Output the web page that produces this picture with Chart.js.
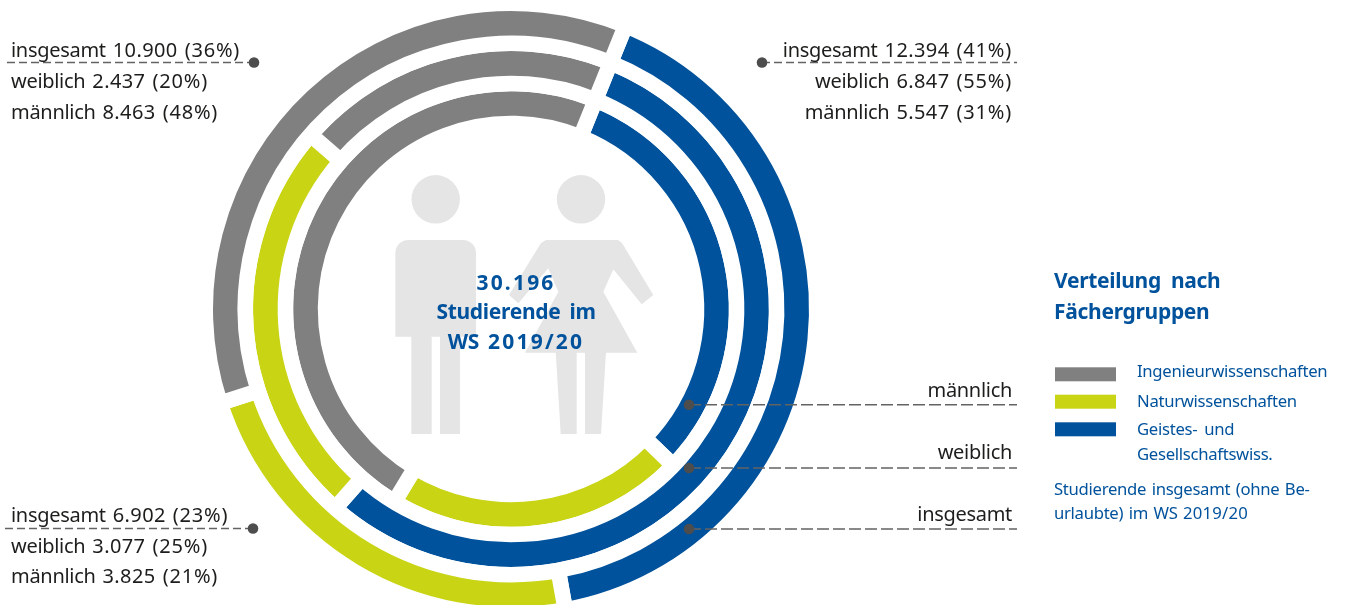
<!DOCTYPE html>
<html lang="de">
<head>
<meta charset="utf-8">
<title>Verteilung nach Fächergruppen</title>
<script src="https://cdn.jsdelivr.net/npm/chart.js@4"></script>
<style>
  html, body { margin: 0; padding: 0; background: #fff; overflow: hidden; }
  #wrap { position: relative; width: 1345px; height: 605px; overflow: hidden; }
  #jsChart { position: absolute; left: 0; top: 0; }
</style>
</head>
<body>
<div id="wrap"><canvas id="jsChart" width="1345" height="640"></canvas></div>
<script>
// Fächergruppen, reihenfolge im uhrzeigersinn
const categories = ['Geistes- und Gesellschaftswiss.', 'Naturwissenschaften', 'Ingenieurwissenschaften'];
const insgesamt = [12394, 6902, 10900];
const weiblich = [6847, 3077, 2437];
const maennlich = [5547, 3825, 8463];
const colors = ['#00529c', '#c8d414', '#808080'];

const topRightLabels = ['insgesamt 12.394 (41%)', 'weiblich 6.847 (55%)', 'männlich 5.547 (31%)'];
const topLeftLabels = ['insgesamt 10.900 (36%)', 'weiblich 2.437 (20%)', 'männlich 8.463 (48%)'];
const bottomLeftLabels = ['insgesamt 6.902 (23%)', 'weiblich 3.077 (25%)', 'männlich 3.825 (21%)'];
const ringLabels = ['männlich', 'weiblich', 'insgesamt'];
const centerLabels = ['30.196', 'Studierende im', 'WS 2019/20'];
const legendTitle = ['Verteilung nach', 'Fächergruppen'];
const legendNote = ['Studierende insgesamt (ohne Be-', 'urlaubte) im WS 2019/20'];

const FONT = '"Noto Sans"';
const DARK = '#1d1d1b';
const BLUE = '#00529c';

// Noto ist bei ziffern schmaler als die originalschrift, darum wortweise sperren
const spacingOf = (word, num) => {
  if (word.startsWith('(') && word.includes('%')) return num + 0.4;
  return /\d/.test(word) ? num : -0.3;
};

const text = (ctx, str, x, y, font, color, align = 'left', num = 0.4, gap = 7) => {
  ctx.font = font;
  ctx.fillStyle = color;
  ctx.textAlign = 'left';
  ctx.textBaseline = 'alphabetic';
  const words = str.split(' ');
  const widths = words.map((w) => {
    ctx.letterSpacing = `${spacingOf(w, num)}px`;
    return ctx.measureText(w).width;
  });
  const total = widths.reduce((a, b) => a + b, 0) + gap * (words.length - 1);
  let cx = x;
  if (align === 'right') cx = x - total;
  if (align === 'center') cx = x - total / 2;
  words.forEach((w, i) => {
    ctx.letterSpacing = `${spacingOf(w, num)}px`;
    ctx.fillText(w, cx, y);
    cx += widths[i] + gap;
  });
  ctx.letterSpacing = '0px';
};

const leader = (ctx, x1, x2, y, dotX, dash) => {
  ctx.save();
  ctx.strokeStyle = '#636363';
  ctx.lineWidth = 1.6;
  ctx.setLineDash(dash);
  ctx.beginPath();
  ctx.moveTo(x1, y);
  ctx.lineTo(x2, y);
  ctx.stroke();
  ctx.restore();
  ctx.fillStyle = '#4d4d4d';
  ctx.beginPath();
  ctx.arc(dotX, y, 5.3, 0, Math.PI * 2);
  ctx.fill();
};

const poly = (ctx, pts) => {
  ctx.beginPath();
  pts.forEach((p, i) => (i ? ctx.lineTo(p[0], p[1]) : ctx.moveTo(p[0], p[1])));
  ctx.closePath();
  ctx.fill();
};

// Figuren in der mitte, liegen unter den ringen
const figuresPlugin = {
  id: 'figures',
  beforeDatasetsDraw(chart) {
    const ctx = chart.ctx;
    ctx.save();
    ctx.fillStyle = '#e5e5e5';
    // mann
    ctx.beginPath();
    ctx.arc(435.7, 199.3, 24.2, 0, Math.PI * 2);
    ctx.fill();
    ctx.beginPath();
    ctx.roundRect(395.3, 240, 80.7, 96.7, [13, 13, 0, 0]);
    ctx.fill();
    ctx.fillRect(411.3, 336, 20.4, 98);
    ctx.fillRect(440, 336, 20, 98);
    // frau
    ctx.beginPath();
    ctx.arc(581, 199.3, 24.2, 0, Math.PI * 2);
    ctx.fill();
    poly(ctx, [[546, 240], [618, 240], [622, 243], [653.3, 295], [641.7, 304.3], [613.3, 269.3], [603.3, 291.7], [637.3, 352.7], [525, 352.7], [558.3, 291.7], [548.3, 268.3], [518.3, 303.3], [509, 295], [541, 243]]);
    poly(ctx, [[555.7, 352], [560.7, 434], [576.7, 434], [576.7, 352]]);
    poly(ctx, [[585, 352], [585, 434], [601, 434], [606, 352]]);
    ctx.restore();
  },
};

// Texte, legende und hinweislinien
const labelsPlugin = {
  id: 'labels',
  afterDatasetsDraw(chart) {
    const ctx = chart.ctx;
    const size = `20px ${FONT}`;
    const baselines = [57, 88, 119];

    leader(ctx, 7, 254, 62.5, 254, [8, 4]);
    leader(ctx, 762, 1017, 62.5, 762, [8, 4]);
    leader(ctx, 5, 253, 528.5, 253, [8, 4]);
    leader(ctx, 689, 1017, 404.8, 689, [12, 4]);
    leader(ctx, 689, 1017, 468, 689, [12, 4]);
    leader(ctx, 689, 1017, 529, 689, [12, 4]);

    topLeftLabels.forEach((s, i) => text(ctx, s, 11, baselines[i], size, DARK));
    topRightLabels.forEach((s, i) => text(ctx, s, 1012, baselines[i], size, DARK, 'right'));
    [522, 553, 583].forEach((y, i) => text(ctx, bottomLeftLabels[i], 11, y, size, DARK));
    [397, 459, 521].forEach((y, i) => text(ctx, ringLabels[i], 1012, y, size, DARK, 'right'));

    [290, 319, 349].forEach((y, i) => text(ctx, centerLabels[i], 516, y, `bold 21px ${FONT}`, BLUE, 'center', 2.2, 9));
    [288, 319].forEach((y, i) => text(ctx, legendTitle[i], 1054, y, `bold 21px ${FONT}`, BLUE, 'left', 0, 10));

    // legende: grau, grün, blau
    [[367.3, 2], [394.7, 1], [422.3, 0]].forEach(([y, c]) => {
      ctx.fillStyle = colors[c];
      ctx.fillRect(1055, y, 61, 14);
    });
    const small = `16.7px ${FONT}`;
    text(ctx, categories[2], 1137, 377, small, BLUE);
    text(ctx, categories[1], 1137, 407, small, BLUE);
    const geistes = categories[0].split(' ');
    text(ctx, `${geistes[0]} ${geistes[1]}`, 1137, 435, small, BLUE);
    text(ctx, geistes[2], 1137, 460, small, BLUE);
    [495, 519].forEach((y, i) => text(ctx, legendNote[i], 1054, y, small, BLUE, 'left', 0.2, 5.5));
  },
};

const ring = (label, data) => ({
  label,
  data,
  backgroundColor: colors,
  borderColor: '#ffffff',
  borderWidth: 15.5,
  hoverOffset: 0,
});

new Chart(document.getElementById('jsChart'), {
  type: 'doughnut',
  data: {
    labels: categories,
    datasets: [ring('insgesamt', insgesamt), ring('weiblich', weiblich), ring('männlich', maennlich)],
  },
  options: {
    responsive: false,
    animation: false,
    rotation: 22,
    radius: 305.75,
    cutout: 182.75,
    layout: { padding: { right: 323, bottom: 22 } },
    plugins: { legend: { display: false }, tooltip: { enabled: false } },
  },
  plugins: [figuresPlugin, labelsPlugin],
});
</script>
</body>
</html>
